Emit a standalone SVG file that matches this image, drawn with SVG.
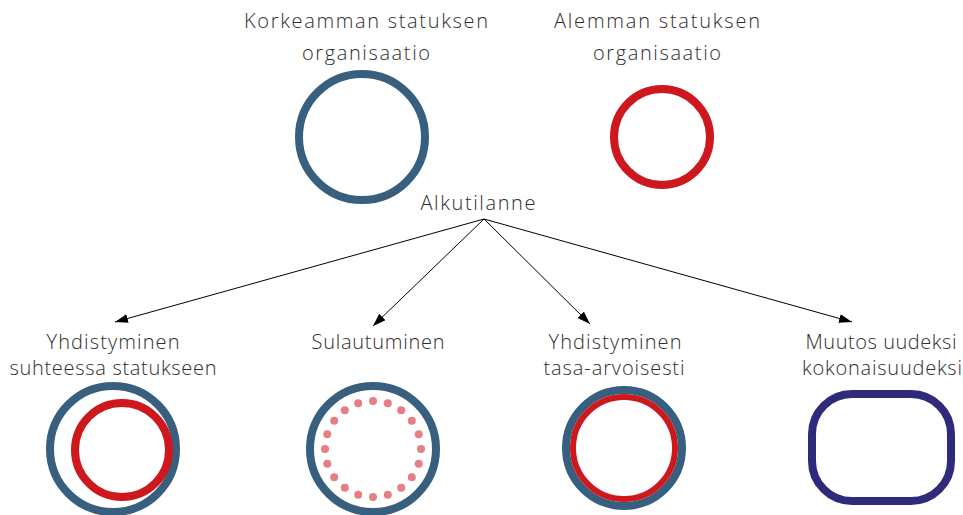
<svg xmlns="http://www.w3.org/2000/svg" width="963" height="515" viewBox="0 0 963 515">
<style>
text{font-family:"Open Sans","Lato","Liberation Sans",sans-serif;font-weight:300;font-size:20px;fill:#2e2e2e;text-anchor:middle}
.blue{fill:none;stroke:#385f7e;stroke-width:8}
.red{fill:none;stroke:#cd181e;stroke-width:8}
.conn{stroke:#000;stroke-width:1;fill:none;marker-end:url(#ah)}
.dot{fill:#e67f84}
</style>
<defs>
<marker id="ah" markerUnits="userSpaceOnUse" markerWidth="14" markerHeight="10" refX="13" refY="4.5" orient="auto">
<path d="M0,0 L13,4.5 L0,9 Z" fill="#000"/>
</marker>
</defs>
<rect width="963" height="515" fill="#fff"/>
<g id="higher">
<text x="366" y="28" textLength="244" lengthAdjust="spacing">Korkeamman statuksen</text>
<text x="366" y="60" textLength="128" lengthAdjust="spacing">organisaatio</text>
<circle class="blue" cx="362" cy="137" r="63"/>
</g>
<g id="lower">
<text x="657" y="28" textLength="206" lengthAdjust="spacing">Alemman statuksen</text>
<text x="657" y="60" textLength="128" lengthAdjust="spacing">organisaatio</text>
<circle class="red" cx="662" cy="137" r="48"/>
</g>
<g id="start">
<text x="478" y="210" textLength="115" lengthAdjust="spacing">Alkutilanne</text>
</g>
<g id="connectors">
<line class="conn" x1="484" y1="219" x2="115" y2="322"/>
<line class="conn" x1="484" y1="219" x2="373" y2="326"/>
<line class="conn" x1="484" y1="219" x2="590" y2="324"/>
<line class="conn" x1="484" y1="219" x2="852" y2="322"/>
</g>
<g id="merge-status">
<text x="113" y="349" textLength="133" lengthAdjust="spacing">Yhdistyminen</text>
<text x="113" y="375" textLength="207" lengthAdjust="spacing">suhteessa statukseen</text>
<circle class="blue" cx="113" cy="449" r="63"/>
<circle class="red" cx="122" cy="450" r="47"/>
</g>
<g id="fusion">
<text x="378" y="349" textLength="133" lengthAdjust="spacing">Sulautuminen</text>
<circle class="blue" cx="373" cy="449" r="63"/>
<g class="dot">
<circle cx="373.0" cy="401.0" r="4"/>
<circle cx="387.8" cy="403.3" r="4"/>
<circle cx="401.2" cy="410.2" r="4"/>
<circle cx="411.8" cy="420.8" r="4"/>
<circle cx="418.7" cy="434.2" r="4"/>
<circle cx="421.0" cy="449.0" r="4"/>
<circle cx="418.7" cy="463.8" r="4"/>
<circle cx="411.8" cy="477.2" r="4"/>
<circle cx="401.2" cy="487.8" r="4"/>
<circle cx="387.8" cy="494.7" r="4"/>
<circle cx="373.0" cy="497.0" r="4"/>
<circle cx="358.2" cy="494.7" r="4"/>
<circle cx="344.8" cy="487.8" r="4"/>
<circle cx="334.2" cy="477.2" r="4"/>
<circle cx="327.3" cy="463.8" r="4"/>
<circle cx="325.0" cy="449.0" r="4"/>
<circle cx="327.3" cy="434.2" r="4"/>
<circle cx="334.2" cy="420.8" r="4"/>
<circle cx="344.8" cy="410.2" r="4"/>
<circle cx="358.2" cy="403.3" r="4"/>
</g>
</g>
<g id="merge-equal">
<text x="615" y="349" textLength="133" lengthAdjust="spacing">Yhdistyminen</text>
<text x="614" y="375" textLength="141" lengthAdjust="spacing">tasa-arvoisesti</text>
<circle class="blue" cx="624" cy="448" r="58"/>
<circle class="red" cx="624" cy="448" r="51" style="stroke-width:6"/>
</g>
<g id="new-whole">
<text x="881" y="349" textLength="151" lengthAdjust="spacing">Muutos uudeksi</text>
<text x="882" y="375" textLength="160" lengthAdjust="spacing">kokonaisuudeksi</text>
<rect x="812" y="394" width="139" height="107" rx="40" ry="40" fill="none" stroke="#2f2a79" stroke-width="8"/>
</g>
</svg>
